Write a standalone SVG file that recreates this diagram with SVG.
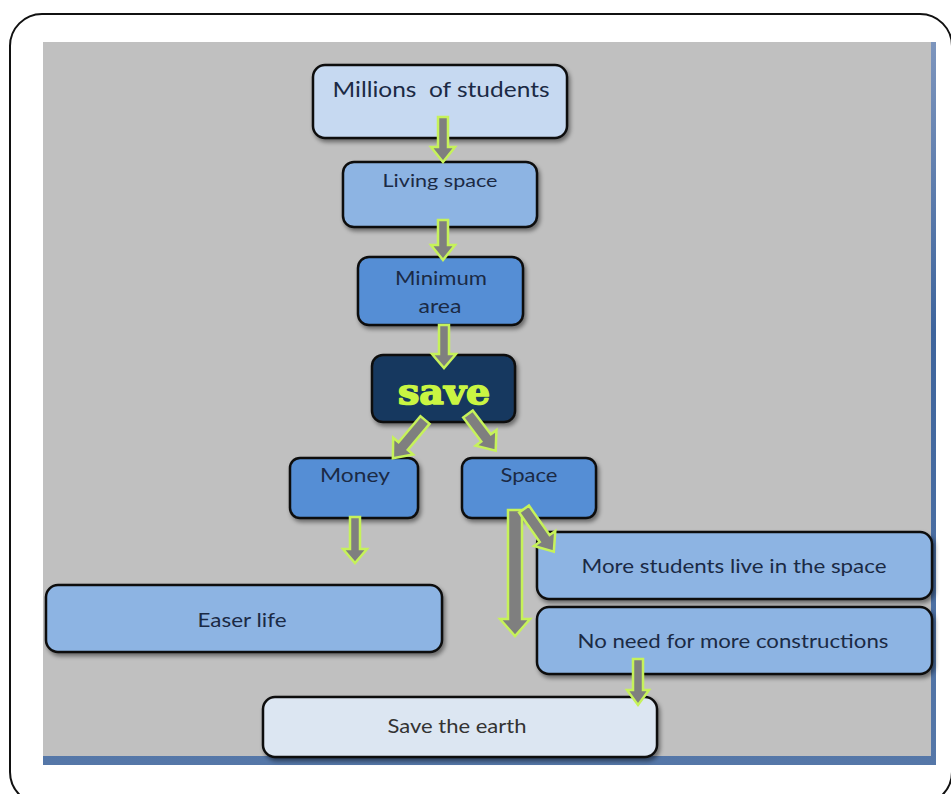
<svg xmlns="http://www.w3.org/2000/svg" width="951" height="794" viewBox="0 0 951 794">
  <defs>
    <filter id="sh" x="-10%" y="-10%" width="130%" height="140%">
      <feDropShadow dx="2" dy="3" stdDeviation="2" flood-color="#000" flood-opacity="0.45"/>
    </filter>
    <linearGradient id="band" x1="0" y1="0" x2="0" y2="1">
      <stop offset="0" stop-color="#7d95bd"/>
      <stop offset="0.4" stop-color="#3e649c"/>
      <stop offset="1" stop-color="#5577a8"/>
    </linearGradient>
  </defs>
  <style>
    .box { stroke: #111; stroke-width: 2.5; filter: url(#sh); }
    .b1 { fill: #c6d9f1; }
    .b2 { fill: #8db4e3; }
    .b3 { fill: #558ed5; }
    .b4 { fill: #17375e; }
    .b5 { fill: #dce6f2; }
    .t { font-family: Lato, "Open Sans", "Liberation Sans", sans-serif; fill: #1b2a45; text-anchor: middle; }
    .save { font-family: "DejaVu Serif", "Liberation Serif", serif; font-weight: bold; fill: #c9f542; stroke: #c9f542; stroke-width: 1.6; stroke-linejoin: round; text-anchor: middle; font-size: 36px; }
    .arr { fill: #7f7f7f; stroke: #c6f25a; stroke-width: 2.5; stroke-linejoin: miter; }
  </style>

  <rect x="0" y="0" width="951" height="794" fill="#fff"/>
  <rect x="10" y="14" width="942" height="790" rx="32" fill="#fff" stroke="#111" stroke-width="2"/>
  <rect x="43" y="42" width="893" height="723" fill="url(#band)"/>
  <rect x="43" y="42" width="888" height="714" fill="#c0c0c0"/>

  <g id="n-millions">
    <rect class="box b1" x="313" y="65" width="254" height="73" rx="12"/>
    <text class="t" x="441" y="97" font-size="22" xml:space="preserve" textLength="217" lengthAdjust="spacingAndGlyphs">Millions  of students</text>
  </g>
  <g id="n-living">
    <rect class="box b2" x="343" y="162" width="194" height="65" rx="11"/>
    <text class="t" x="440" y="187" font-size="18" textLength="115" lengthAdjust="spacingAndGlyphs">Living space</text>
  </g>
  <g id="n-minimum">
    <rect class="box b3" x="358" y="257" width="165" height="68" rx="11"/>
    <text class="t" x="441" y="285" font-size="19" textLength="92" lengthAdjust="spacingAndGlyphs">Minimum</text>
    <text class="t" x="440" y="313" font-size="19" textLength="43" lengthAdjust="spacingAndGlyphs">area</text>
  </g>
  <g id="n-save">
    <rect class="box b4" x="372" y="355" width="143" height="67" rx="11"/>
    <text class="save" x="444" y="404" textLength="92" lengthAdjust="spacingAndGlyphs">save</text>
  </g>
  <g id="n-money">
    <rect class="box b3" x="290" y="458" width="128" height="60" rx="10"/>
    <text class="t" x="355" y="482" font-size="20" textLength="70" lengthAdjust="spacingAndGlyphs">Money</text>
  </g>
  <g id="n-space">
    <rect class="box b3" x="462" y="458" width="134" height="60" rx="10"/>
    <text class="t" x="529" y="482" font-size="20" textLength="57" lengthAdjust="spacingAndGlyphs">Space</text>
  </g>
  <g id="n-more">
    <rect class="box b2" x="537" y="532" width="395" height="67" rx="12"/>
    <text class="t" x="734" y="573" font-size="20" textLength="305" lengthAdjust="spacingAndGlyphs">More students live in the space</text>
  </g>
  <g id="n-noneed">
    <rect class="box b2" x="537" y="607" width="395" height="67" rx="12"/>
    <text class="t" x="733" y="648" font-size="20" textLength="311" lengthAdjust="spacingAndGlyphs">No need for more constructions</text>
  </g>
  <g id="n-easer">
    <rect class="box b2" x="46" y="585" width="396" height="67" rx="12"/>
    <text class="t" x="242" y="627" font-size="20" textLength="89" lengthAdjust="spacingAndGlyphs">Easer life</text>
  </g>
  <g id="n-earth">
    <rect class="box b5" x="263" y="697" width="394" height="60" rx="12"/>
    <text class="t" x="457" y="733" font-size="20" style="fill:#333" textLength="139" lengthAdjust="spacingAndGlyphs">Save the earth</text>
  </g>

  <g id="connectors">
    <polygon class="arr" points="438,117 448,117 448,147 455,147 443,162 431,147 438,147"/>
    <polygon class="arr" points="438,220 448,220 448,245 455,245 443,260 431,245 438,245"/>
    <polygon class="arr" points="439,325 449,325 449,354 456,354 444,368 432,354 439,354"/>
    <polygon class="arr" transform="translate(425,420) rotate(40)" points="-6,0 6,0 6,34 13,34 0,50 -13,34 -6,34"/>
    <polygon class="arr" transform="translate(468,414) rotate(-37)" points="-6,0 6,0 6,30 13,30 0,46 -13,30 -6,30"/>
    <polygon class="arr" points="350,517 360,517 360,549 367,549 355,563 343,549 350,549"/>
    <polygon class="arr" points="508,510 522,510 522,619 530,619 515,636 500,619 508,619"/>
    <polygon class="arr" transform="translate(524,509) rotate(-35)" points="-6,0 6,0 6,36 13,36 0,52 -13,36 -6,36"/>
    <polygon class="arr" points="633,659 643,659 643,690 649,690 638,705 627,690 633,690"/>
  </g>
</svg>
